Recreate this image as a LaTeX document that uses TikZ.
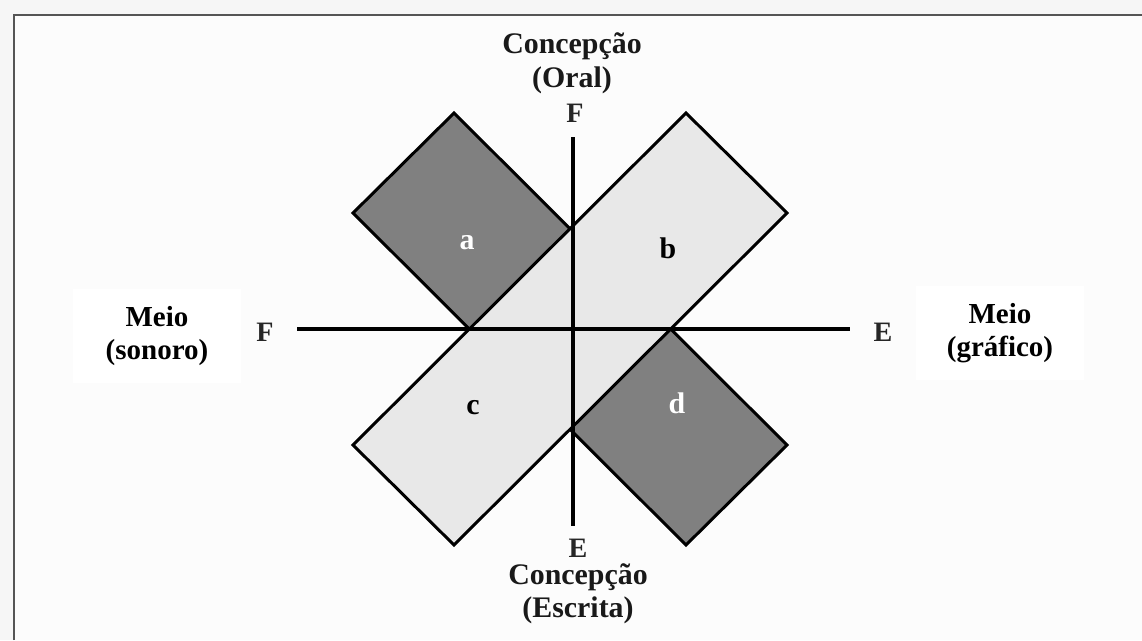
\documentclass[tikz,border=0pt]{standalone}
\usepackage{fontspec}
\setmainfont{Liberation Serif}
\usepackage{tikz}
\usetikzlibrary{positioning}
\definecolor{cDark}{RGB}{128,128,128}
\definecolor{cLight}{RGB}{232,232,232}
\definecolor{cFrame}{RGB}{85,85,85}
\definecolor{cPage}{RGB}{246,246,246}
\definecolor{cInner}{RGB}{252,252,252}
\tikzset{
	band/.style     ={draw=black, line width=1.7pt, line join=miter},
	axisline/.style ={draw=black, line width=2.3pt},
	lbl/.style      ={font=\fontsize{17}{19}\selectfont\bfseries, inner sep=0pt, text=black!90},
	poleLbl/.style  ={font=\fontsize{16}{19}\selectfont\bfseries, inner sep=0pt, text=black!85},
	mediumbox/.style={rectangle, fill=white, minimum width=3.38cm, minimum height=1.88cm, align=center, font=\fontsize{16.5}{19}\selectfont\bfseries},
	cornerLbl/.style={font=\fontsize{17}{17}\selectfont\bfseries, inner sep=0pt},
}
\begin{document}
\begin{tikzpicture}[x=0.02cm, y=-0.02cm]
	\useasboundingbox[fill=cPage] (0,0) rectangle (1142,640);
	\fill[cInner] (14,15) rectangle (1142,640);
	\draw[cFrame, line width=1.4pt] (14,640) -- (14,15) -- (1142,15);
	% corners of the two bands
	\coordinate (aTop) at (454,113); \coordinate (aLeft) at (353,213);
	\coordinate (dRight) at (787,445); \coordinate (dBot) at (686,545);
	\coordinate (cLeft) at (353,445); \coordinate (cBot) at (454,545);
	\coordinate (bRight) at (787,213); \coordinate (bTop) at (686,113);
	\draw[band, fill=cDark] (aTop) -- (dRight) -- (dBot) -- (aLeft) -- cycle;
	\draw[band, fill=cLight] (cLeft) -- (bTop) -- (bRight) -- (cBot) -- cycle;
	% axes
	\coordinate (vTop) at (573,137); \coordinate (vBot) at (573,526);
	\coordinate (hLeft) at (297,329); \coordinate (hRight) at (850,329);
	\draw[axisline] (vTop) -- (vBot);
	\draw[axisline] (hLeft) -- (hRight);
	% pole letters
	\node[poleLbl, anchor=base] (fTop) at (575,122) {F};
	\node[poleLbl] (eBot) at (578,548) {E};
	\node[poleLbl] (fLeft) at (265,332) {F};
	\node[poleLbl] (eRight) at (883,332) {E};
	% conception labels
	\node[lbl, anchor=base] (concOral) at (572,53) {Concepção};
	\node[lbl, anchor=base] (oral) at (572,87) {(Oral)};
	\node[lbl, anchor=base] (concEscr) at (578,584) {Concepção};
	\node[lbl, anchor=base] (escrita) at (578,617) {(Escrita)};
	% medium labels
	\node[mediumbox] (meioSon) at (157,336) {Meio\\(sonoro)};
	\node[mediumbox] (meioGraf) at (1000,333) {Meio\\(gráfico)};
	% quadrant letters
	\node[cornerLbl, text=white] (qa) at (467,243) {a};
	\node[cornerLbl] (qb) at (668,248) {b};
	\node[cornerLbl] (qc) at (473,408) {c};
	\node[cornerLbl, text=white] (qd) at (677,403) {d};
\end{tikzpicture}
\end{document}
